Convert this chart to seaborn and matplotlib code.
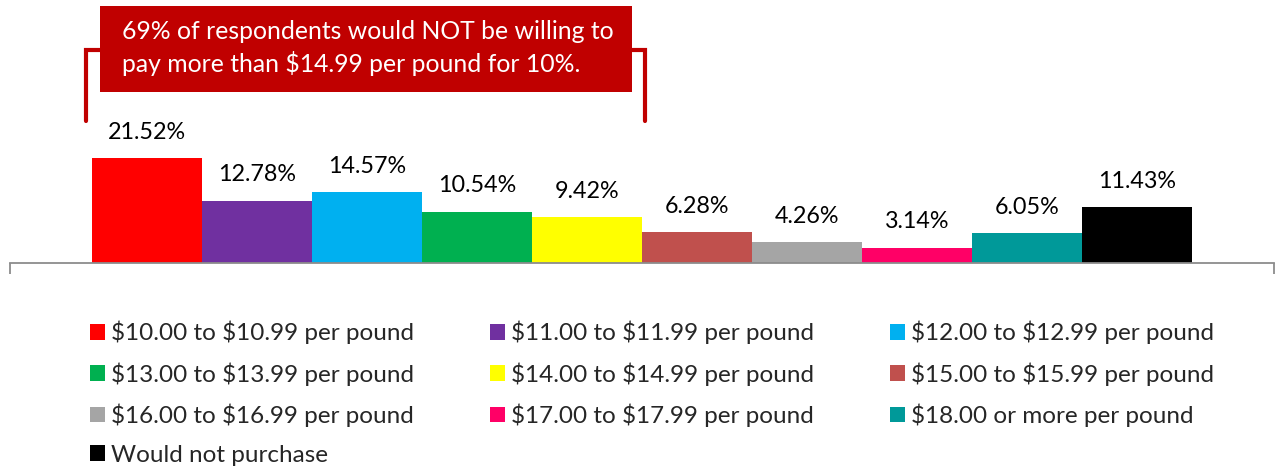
import matplotlib
matplotlib.use("Agg")
import matplotlib.pyplot as plt
from matplotlib.patches import Patch, Rectangle
import pandas as pd
import seaborn as sns

options = [
    "$10.00 to $10.99 per pound",
    "$11.00 to $11.99 per pound",
    "$12.00 to $12.99 per pound",
    "$13.00 to $13.99 per pound",
    "$14.00 to $14.99 per pound",
    "$15.00 to $15.99 per pound",
    "$16.00 to $16.99 per pound",
    "$17.00 to $17.99 per pound",
    "$18.00 or more per pound",
    "Would not purchase",
]
shares = [21.52, 12.78, 14.57, 10.54, 9.42, 6.28, 4.26, 3.14, 6.05, 11.43]
colors = ["#FF0000", "#7030A0", "#00B0F0", "#00B050", "#FFFF00",
          "#C0504D", "#A5A5A5", "#FF0066", "#009999", "#000000"]
callout = "69% of respondents would NOT be willing to\npay more than $14.99 per pound for 10%."

df = pd.DataFrame({"group": ["all"] * len(options), "option": options, "share": shares})

sns.set_style("white")
plt.rcParams["font.family"] = ["Lato", "DejaVu Sans"]
plt.rcParams["text.parse_math"] = False

W, H = 1277, 472
fig = plt.figure(figsize=(W / 100, H / 100), dpi=100)
ax = fig.add_axes([10 / W, 1 - 263 / H, 1264 / W, 263 / H])

sns.barplot(data=df, x="group", y="share", hue="option", hue_order=options,
            palette=colors, width=0.87, gap=0, saturation=1, legend=False,
            linewidth=0, edgecolor="none", ax=ax)

ax.set_xlim(-0.5, 0.5)
ax.set_ylim(0, 263 / 4.88)
for c in ax.containers:
    ax.bar_label(c, fmt="%.2f%%", padding=11, fontsize=16.8, color="black")

for s in ["top", "left", "right"]:
    ax.spines[s].set_visible(False)
ax.spines["bottom"].set_color("#8C8C8C")
ax.spines["bottom"].set_linewidth(1.3)
ax.set_xticks([-0.5, 0.5])
ax.set_xticklabels([])
ax.tick_params(axis="x", length=8, width=1.3, color="#8C8C8C", bottom=True)
ax.set_yticks([])
ax.set_xlabel("")
ax.set_ylabel("")

# bracket over the first five price bands, with the callout box on top
px = 0.87 / 1100  # data units per pixel along x
py = 1 / 4.88
bars = [c.patches[0] for c in ax.containers]
x0 = bars[0].get_x() - 6 * px
x1 = bars[4].get_x() + bars[4].get_width() + 3 * px
yb = (263 - 50) * py
yl = (263 - 121) * py
ax.plot([x0, x0, x1, x1], [yl, yb, yb, yl], color="#C00000", lw=3,
        solid_joinstyle="miter", clip_on=False)
bx0 = bars[0].get_x() + 8 * px
bx1 = bars[4].get_x() + bars[4].get_width() - 10 * px
by0 = (263 - 92) * py
by1 = (263 - 6) * py
ax.add_patch(Rectangle((bx0, by0), bx1 - bx0, by1 - by0, facecolor="#C00000",
                       edgecolor="none", clip_on=False, zorder=5))
ax.text(bx0 + 22 * px, (by0 + by1) / 2 + 1 * py, callout, color="white",
        fontsize=17.8, ha="left", va="center", linespacing=1.42, zorder=6)

# legend laid out row by row in three columns
handles = [Patch(facecolor=c, edgecolor="none") for c in colors]
order = [0, 3, 6, 9, 1, 4, 7, 2, 5, 8]
fig.legend([handles[i] for i in order], [options[i] for i in order],
           loc="upper left", bbox_to_anchor=(90 / W, 1 - 321 / H), ncol=3,
           frameon=False, fontsize=17.5, handlelength=0.62, handleheight=0.62,
           handletextpad=0.25, columnspacing=3.12, labelspacing=0.73,
           borderaxespad=0, borderpad=0)

fig.savefig("out.png", dpi=100)
